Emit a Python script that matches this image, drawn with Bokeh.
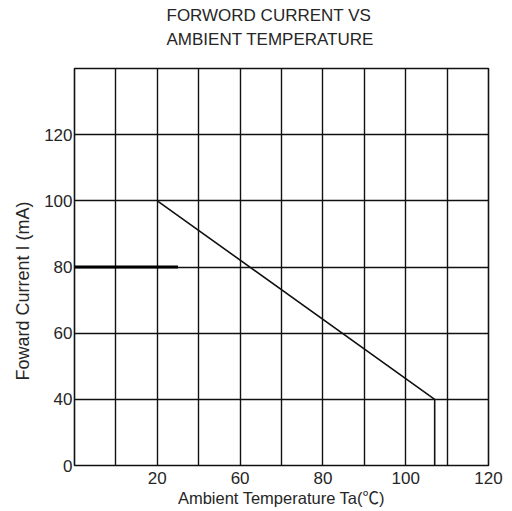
from bokeh.plotting import figure
from bokeh.models import Range1d, FixedTicker, Title
from bokeh.embed import file_html
from bokeh.resources import INLINE

# grid positions (chart grid cells)
x_grid = list(range(0, 11))
y_grid = list(range(0, 7))

# tick labels as printed on the chart
x_tick_pos = [2, 4, 6, 8, 10]
x_tick_labels = ["20", "60", "80", "100", "120"]
y_tick_pos = [0, 1, 2, 3, 4, 5]
y_tick_labels = ["0", "40", "60", "80", "100", "120"]

# derating curve (in grid-cell coordinates)
curve_x = [2, 8.7, 8.7]
curve_y = [4, 1, 0]

# bold reference segment at the "80" line
ref_x = [0, 2.5]
ref_y = [3, 3]

title_lines = ["FORWORD CURRENT VS", "AMBIENT TEMPERATURE"]

FONT = "'Liberation Sans', 'Noto Sans CJK SC'"
TXT = "#262626"

p = figure(frame_width=414, frame_height=397,
           min_border_left=74, min_border_right=24,
           min_border_top=68, min_border_bottom=46,
           x_range=Range1d(0, 10), y_range=Range1d(0, 6),
           output_backend="svg", toolbar_location=None, title=None)

p.background_fill_color = "white"
p.border_fill_color = "white"
p.outline_line_color = "#111111"
p.outline_line_width = 1.6

# grids
p.xgrid.ticker = FixedTicker(ticks=x_grid)
p.ygrid.ticker = FixedTicker(ticks=y_grid)
for g in (p.xgrid, p.ygrid):
    g.grid_line_color = "#111111"
    g.grid_line_width = 1.4
    g.grid_line_alpha = 1.0

# axes
p.xaxis.ticker = FixedTicker(ticks=x_tick_pos)
p.xaxis.major_label_overrides = {k: v for k, v in zip(x_tick_pos, x_tick_labels)}
p.yaxis.ticker = FixedTicker(ticks=y_tick_pos)
p.yaxis.major_label_overrides = {k: v for k, v in zip(y_tick_pos, y_tick_labels)}
for ax in (p.xaxis, p.yaxis):
    ax.axis_line_color = None
    ax.major_tick_line_color = None
    ax.minor_tick_line_color = None
    ax.major_tick_out = 0
    ax.major_tick_in = 0
    ax.major_label_text_font = FONT
    ax.major_label_text_font_size = "17px"
    ax.major_label_text_color = TXT
p.yaxis.major_label_standoff = 2
p.xaxis.major_label_standoff = 6

p.xaxis.axis_label = "Ambient Temperature Ta(℃)"
p.xaxis.axis_label_text_font = FONT
p.xaxis.axis_label_text_font_size = "16.5px"
p.xaxis.axis_label_text_font_style = "normal"
p.xaxis.axis_label_text_color = TXT
p.xaxis.axis_label_standoff = 2

# y axis title placed as a left title so it can be offset
p.add_layout(Title(text="Foward Current I (mA)", align="left", offset=85,
                   text_font=FONT, text_font_size="18px",
                   text_font_style="normal", text_color=TXT, standoff=17), "left")

# two-line chart title (trailing empty line lifts it away from the frame)
p.add_layout(Title(text="\n".join(title_lines) + "\n", align="left", offset=92,
                   vertical_align="bottom",
                   text_font=FONT, text_font_size="17px", text_line_height=1.25,
                   text_font_style="normal", text_color=TXT, standoff=-8), "above")

# data
p.line(ref_x, ref_y, line_color="#000000", line_width=3)
p.line(curve_x, curve_y, line_color="#111111", line_width=1.6)

open("out.html", "w").write(file_html(p, INLINE))
